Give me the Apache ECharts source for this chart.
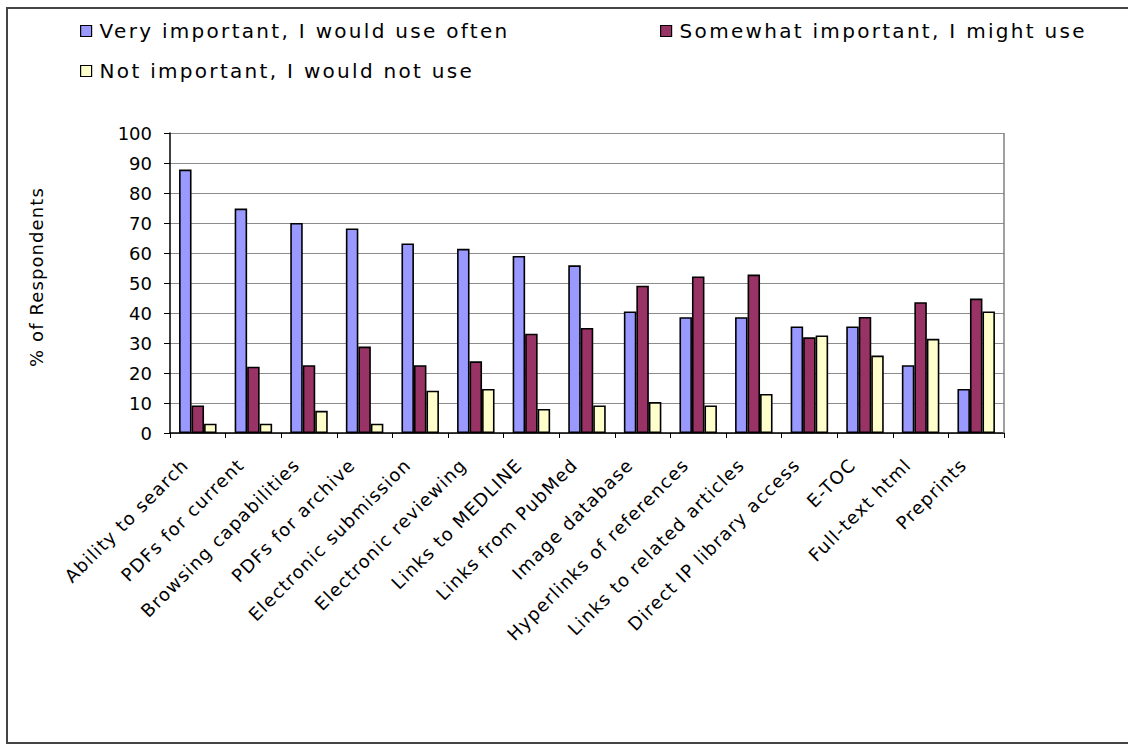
<!DOCTYPE html>
<html>
<head>
<meta charset="utf-8">
<script src="https://cdn.jsdelivr.net/npm/echarts@6/dist/echarts.min.js"></script>
<style>html,body{margin:0;padding:0;background:#fff}#c{width:1128px;height:744px}</style>
</head>
<body>
<div id="c"></div>
<script>
const categories = ["Ability to search","PDFs for current","Browsing capabilities","PDFs for archive","Electronic submission","Electronic reviewing","Links to MEDLINE","Links from PubMed","Image database","Hyperlinks of references","Links to related articles","Direct IP library access","E-TOC","Full-text html","Preprints"];
const seriesNames = ["Very important, I would use often","Somewhat important, I might use","Not important, I would not use"];
const veryImportant = [87.8,74.8,70.0,68.2,63.2,61.4,59.0,55.9,40.5,38.6,38.6,35.5,35.5,22.6,14.7];
const somewhatImportant = [9.2,22.1,22.6,28.8,22.6,23.9,33.1,35.0,49.1,52.2,52.8,31.9,38.7,43.6,44.8];
const notImportant = [3.1,3.1,7.4,3.1,14.1,14.7,8.0,9.2,10.3,9.2,13.0,32.5,25.8,31.4,40.5];
const yTicks = [0,10,20,30,40,50,60,70,80,90,100];
const yAxisTitle = "% of Respondents";
const colors = ["#9999FF","#993366","#FFFFCC"];

const FONT = "DejaVu Sans";
const chart = echarts.init(document.getElementById('c'), null, {renderer:'svg'});
const values = [veryImportant, somewhatImportant, notImportant];
const legendPos = [{left:80,top:21},{left:660,top:21},{left:80,top:61}];
const option = {
  animation:false,
  backgroundColor:'#fff',
  textStyle:{fontFamily:FONT},
  graphic:[{type:'rect',shape:{x:7,y:8,width:1140,height:735},style:{fill:'none',stroke:'#444',lineWidth:2},z:-1},
           {type:'line',shape:{x1:1004,y1:133,x2:1004,y2:433},style:{stroke:'#808080',lineWidth:1.5},z:5}],
  legend: seriesNames.map((n,i)=>({
    data:[n], left:legendPos[i].left, top:legendPos[i].top, padding:0,
    icon:'rect', itemWidth:11, itemHeight:11, itemGap:0,
    itemStyle:{borderColor:'#000',borderWidth:1.2},
    textStyle:{fontFamily:FONT,fontSize:20,color:'#000',padding:[0,0,0,3]}
  })),
  grid:{left:170,right:124,top:133,bottom:311,containLabel:false},
  xAxis:{type:'category',data:categories,boundaryGap:true,
    axisLine:{lineStyle:{color:'#000',width:1.5}},
    axisTick:{show:true,length:5,inside:false,alignWithLabel:false,lineStyle:{color:'#000'}},
    axisLabel:{rotate:45,interval:0,fontSize:18,color:'#000',fontFamily:FONT,margin:16,padding:[0,18,0,0]}},
  yAxis:{type:'value',min:0,max:100,interval:10,
    name:yAxisTitle,nameLocation:'middle',nameGap:125,nameRotate:90,
    nameTextStyle:{fontFamily:FONT,fontSize:18,color:'#000',padding:[0,0,0,12]},
    axisLine:{show:true,lineStyle:{color:'#000',width:1.5}},
    axisTick:{show:true,length:6,lineStyle:{color:'#000'}},
    axisLabel:{fontSize:18,color:'#000',fontFamily:FONT,margin:18,
      formatter:v=>yTicks.includes(v)?String(v):''},
    splitLine:{show:true,lineStyle:{color:'#8c8c8c',width:1.2}}},
  series: seriesNames.map((n,i)=>({
    name:n,type:'bar',data:values[i],barWidth:12.5,barGap:'0%',
    itemStyle:{color:colors[i],borderColor:'#000',borderWidth:1.6}
  }))
};
chart.setOption(option);

function applySpacing(){
  const texts = document.querySelectorAll('#c svg text');
  texts.forEach(t=>{
    const s = t.textContent;
    if (seriesNames.includes(s)) t.style.letterSpacing = '2.3px';
    else if (categories.includes(s)) t.style.letterSpacing = '1.2px';
    else if (s === yAxisTitle) t.style.letterSpacing = '1.1px';
  });
}
chart.on('finished', applySpacing);
applySpacing();
setTimeout(applySpacing, 50);
</script>
</body>
</html>
